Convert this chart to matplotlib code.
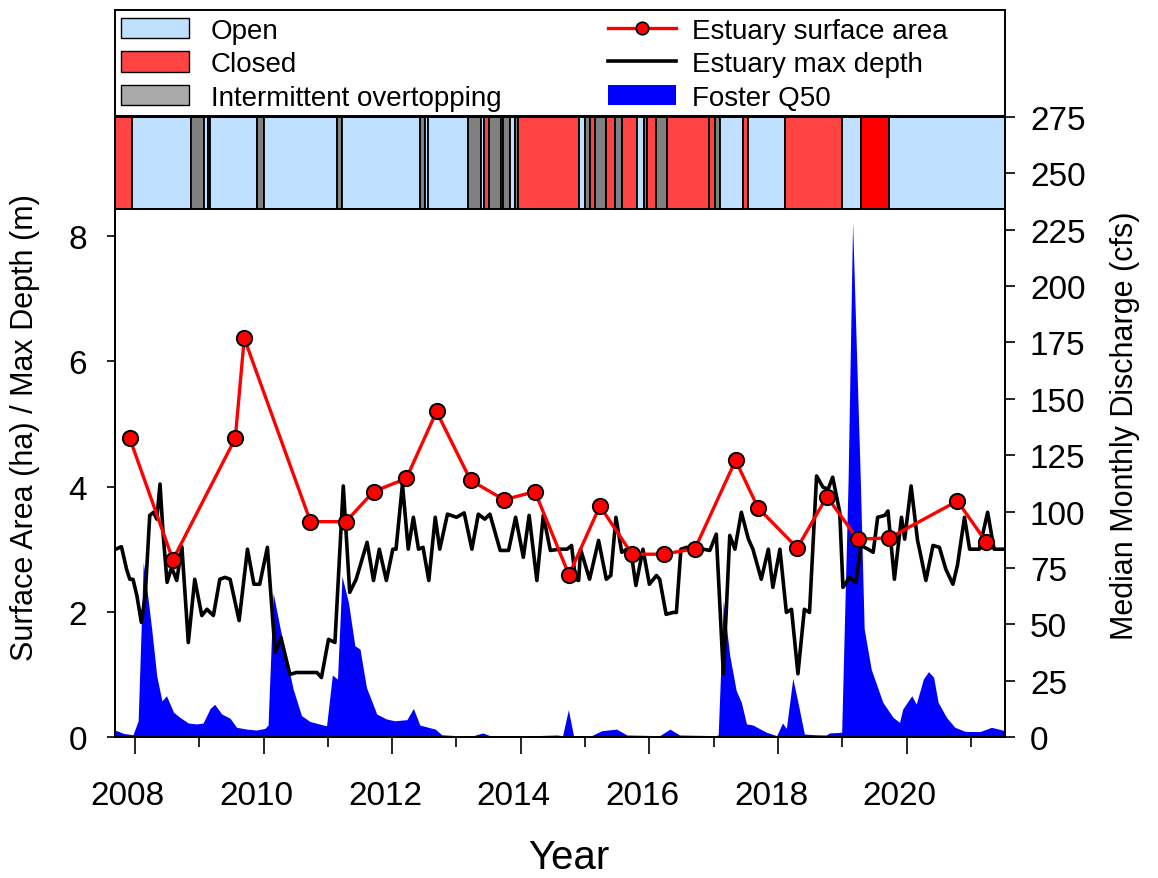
import numpy as np
import matplotlib.pyplot as plt
import matplotlib.transforms as mtrans
from matplotlib.patches import Patch, Rectangle
from matplotlib.lines import Line2D

plt.rcParams['font.family'] = ['Liberation Sans', 'DejaVu Sans']

#------------------------------------------------------------------#
# data
#------------------------------------------------------------------#
# estuary surface area (ha)
sa_year = [2007.92, 2008.59, 2009.56, 2009.70, 2010.73, 2011.28, 2011.71, 2012.22, 2012.69,
           2013.22, 2013.74, 2014.22, 2014.75, 2015.23, 2015.73, 2016.22, 2016.71, 2017.34,
           2017.69, 2018.30, 2018.76, 2019.24, 2019.73, 2020.79, 2021.24]
sa_val = [4.77, 2.83, 4.77, 6.37, 3.44, 3.44, 3.92, 4.13, 5.20,
          4.10, 3.79, 3.92, 2.59, 3.69, 2.92, 2.92, 3.01, 4.42,
          3.66, 3.02, 3.84, 3.16, 3.18, 3.77, 3.11]

# estuary max depth (m)
depth_year = [2007.70, 2007.79, 2007.87, 2007.92, 2007.97, 2008.03, 2008.10, 2008.16, 2008.23, 2008.29,
              2008.34, 2008.39, 2008.44, 2008.50, 2008.57, 2008.65, 2008.73, 2008.83, 2008.93, 2009.04,
              2009.12, 2009.22, 2009.32, 2009.40, 2009.48, 2009.62, 2009.75, 2009.85, 2009.94, 2010.06,
              2010.18, 2010.27, 2010.41, 2010.51, 2010.83, 2010.90, 2011.01, 2011.11, 2011.24, 2011.34,
              2011.44, 2011.61, 2011.71, 2011.80, 2011.91, 2012.01, 2012.06, 2012.16, 2012.25, 2012.33,
              2012.41, 2012.48, 2012.57, 2012.67, 2012.74, 2012.86, 2013.00, 2013.12, 2013.24, 2013.34,
              2013.44, 2013.52, 2013.68, 2013.81, 2013.92, 2014.04, 2014.13, 2014.25, 2014.35, 2014.46,
              2014.61, 2014.72, 2014.79, 2014.85, 2014.90, 2014.93, 2015.07, 2015.21, 2015.33, 2015.40,
              2015.48, 2015.57, 2015.65, 2015.72, 2015.79, 2015.90, 2016.00, 2016.11, 2016.16, 2016.26,
              2016.37, 2016.42, 2016.49, 2016.58, 2016.84, 2016.94, 2017.04, 2017.15, 2017.25, 2017.33,
              2017.43, 2017.54, 2017.61, 2017.74, 2017.85, 2017.92, 2018.03, 2018.13, 2018.21, 2018.31,
              2018.41, 2018.49, 2018.60, 2018.70, 2018.78, 2018.85, 2018.96, 2019.01, 2019.11, 2019.21,
              2019.29, 2019.40, 2019.48, 2019.55, 2019.66, 2019.71, 2019.81, 2019.92, 2019.97, 2020.07,
              2020.17, 2020.20, 2020.30, 2020.41, 2020.51, 2020.61, 2020.72, 2020.79, 2020.90, 2020.98,
              2021.13, 2021.26, 2021.36, 2021.44, 2021.52]
depth_val = [3.00, 3.04, 2.68, 2.52, 2.52, 2.26, 1.83, 2.26, 3.54, 3.59,
             3.48, 4.04, 3.22, 2.47, 2.71, 2.50, 3.04, 1.51, 2.52, 1.94,
             2.04, 1.94, 2.52, 2.55, 2.52, 1.86, 3.00, 2.44, 2.44, 3.03,
             1.35, 1.59, 1.00, 1.03, 1.03, 0.95, 1.56, 1.51, 4.01, 2.31,
             2.52, 3.11, 2.50, 3.00, 2.50, 3.00, 3.00, 4.04, 3.00, 3.51,
             3.00, 3.03, 2.50, 3.51, 3.00, 3.56, 3.51, 3.58, 3.00, 3.56,
             3.48, 3.56, 2.98, 2.98, 3.51, 2.87, 3.54, 2.50, 3.54, 2.98,
             3.00, 3.00, 3.06, 2.52, 2.50, 3.00, 2.52, 3.14, 2.52, 2.58,
             3.51, 2.95, 3.00, 2.92, 2.42, 3.00, 2.44, 2.58, 2.52, 1.96,
             1.99, 1.99, 3.00, 3.03, 3.00, 2.98, 3.24, 1.01, 3.22, 3.00,
             3.59, 3.16, 3.00, 2.52, 3.00, 2.39, 3.00, 1.99, 2.04, 1.01,
             2.04, 1.99, 4.17, 3.99, 3.96, 4.15, 3.59, 2.39, 2.55, 2.47,
             3.06, 3.00, 2.95, 3.51, 3.54, 3.61, 2.52, 3.51, 3.16, 4.01,
             3.14, 3.00, 2.50, 3.06, 3.03, 2.68, 2.44, 2.74, 3.51, 3.00,
             3.00, 3.59, 3.00, 3.00, 3.00]

# Foster median monthly discharge (cfs)
q_year = [2007.69, 2007.72, 2007.82, 2007.97, 2008.05, 2008.13, 2008.18, 2008.26, 2008.34, 2008.42,
          2008.49, 2008.60, 2008.70, 2008.83, 2008.96, 2009.06, 2009.17, 2009.24, 2009.35, 2009.48,
          2009.58, 2009.74, 2009.89, 2010.02, 2010.07, 2010.15, 2010.26, 2010.36, 2010.46, 2010.59,
          2010.72, 2010.93, 2010.98, 2011.07, 2011.15, 2011.22, 2011.32, 2011.42, 2011.50, 2011.60,
          2011.76, 2011.91, 2012.04, 2012.23, 2012.33, 2012.43, 2012.67, 2012.77, 2013.00, 2013.26,
          2013.41, 2013.52, 2013.99, 2014.56, 2014.65, 2014.74, 2014.82, 2015.10, 2015.26, 2015.49,
          2015.65, 2016.16, 2016.32, 2016.47, 2017.04, 2017.07, 2017.15, 2017.25, 2017.35, 2017.43,
          2017.51, 2017.61, 2017.82, 2017.98, 2018.07, 2018.13, 2018.23, 2018.31, 2018.41, 2018.60,
          2018.75, 2018.80, 2018.99, 2019.09, 2019.16, 2019.22, 2019.28, 2019.34, 2019.45, 2019.63,
          2019.79, 2019.89, 2019.94, 2020.08, 2020.15, 2020.26, 2020.34, 2020.42, 2020.49, 2020.62,
          2020.75, 2020.91, 2021.14, 2021.32, 2021.53]
q_val = [2.8, 2.8, 1.6, 1.0, 7.2, 77.5, 67, 48, 27, 16,
         18.3, 11, 8.7, 6.2, 5.8, 6.2, 12.7, 14.5, 10.2, 8.3,
         4.3, 3.5, 3.1, 3.8, 5.3, 63.9, 47.9, 34.6, 21.3, 9.5,
         6.9, 5.3, 5.0, 27.5, 25.7, 71.3, 59.7, 40.5, 39.0, 22.0,
         10.2, 8.0, 7.2, 7.7, 12.7, 5.3, 3.5, 1.0, 0.6, 0.6,
         1.8, 0.6, 0.4, 0.9, 0.6, 12.1, 0.6, 0.6, 2.8, 3.5,
         0.9, 0.6, 3.5, 0.9, 0.6, 1.0, 60.5, 36.1, 20.6, 15.4,
         5.8, 5.3, 2.1, 0.6, 6.2, 3.8, 26.0, 15.4, 1.3, 1.0,
         0.9, 1.8, 2.1, 114, 228, 171, 114, 48, 30, 15.4,
         8.7, 6.5, 12.4, 18.3, 14.6, 25.7, 29, 26.5, 15.4, 8.7,
         4.3, 2.5, 2.4, 4.3, 2.8]

# mouth state: O open, C closed, I intermittent overtopping, R closed (bright)
band_edges = [2007.69, 2007.95, 2008.87, 2009.07, 2009.14, 2009.17, 2009.90, 2010.01, 2011.14, 2011.22,
              2012.44, 2012.51, 2012.56, 2013.18, 2013.38, 2013.43, 2013.51, 2013.70, 2013.73, 2013.83,
              2013.91, 2013.96, 2014.91, 2015.00, 2015.08, 2015.15, 2015.33, 2015.47, 2015.57, 2015.80,
              2015.91, 2015.97, 2016.10, 2016.28, 2016.93, 2017.02, 2017.10, 2017.45, 2017.54, 2018.11,
              2018.99, 2019.29, 2019.73, 2021.53]
band_state = ['C', 'O', 'I', 'O', 'I', 'O', 'I', 'O', 'I', 'O',
              'I', 'O', 'O', 'I', 'O', 'C', 'I', 'O', 'I', 'O',
              'I', 'C', 'O', 'I', 'C', 'I', 'C', 'I', 'C', 'O',
              'I', 'C', 'I', 'C', 'C', 'I', 'O', 'C', 'O', 'C',
              'O', 'R', 'O']
state_color = {'O': '#C0E0FF', 'C': '#FF4242', 'I': '#808080', 'R': '#FF0000'}

#------------------------------------------------------------------#
W, H = 1158, 879
fig = plt.figure(figsize=(W / 100, H / 100), dpi=100)

def fx(px):
    return px / W

def fy(py):
    return 1 - py / H

ax = fig.add_axes([fx(115), fy(738), fx(1005) - fx(115), fy(118) - fy(738)])
ax2 = ax.twinx()
ax.set_zorder(ax2.get_zorder() + 1)
ax.patch.set_visible(False)

ax2.fill_between(q_year, q_val, 0, color='#0000FF', lw=0)
ax.plot(depth_year, depth_val, color='k', lw=2.6, solid_joinstyle='round')
ax.plot(sa_year, sa_val, '-o', color='#FF0000', lw=2.4, ms=11,
        mfc='#FF0000', mec='k', mew=1.4)

ax.set_xlim(2007.69, 2021.53)
ax.set_ylim(0, 9.904)
ax2.set_ylim(0, 275)

ax.set_xticks(range(2008, 2022, 2))
ax.set_xticks(range(2009, 2022, 2), minor=True)
ax.set_yticks([0, 2, 4, 6, 8])
ax2.set_yticks(range(0, 276, 25))

ax.tick_params(axis='x', which='major', length=12, width=1.2, labelsize=24, pad=19)
ax.tick_params(axis='x', which='minor', length=7, width=1.2)
ax.tick_params(axis='y', length=6, width=1.2, labelsize=24, pad=14)
ax2.tick_params(axis='y', length=7, width=1.2, labelsize=24, pad=11)

offset = mtrans.ScaledTranslation(-7 / 100, 0, fig.dpi_scale_trans)
for lab in ax.get_xticklabels():
    lab.set_transform(lab.get_transform() + offset)

for a in (ax, ax2):
    a.spines['top'].set_visible(False)
    for s in ['left', 'right', 'bottom']:
        a.spines[s].set_linewidth(1.4)

ax.set_xlabel('Year', fontsize=29)
ax.xaxis.set_label_coords(0.51, -0.163)
ax.set_ylabel('Surface Area (ha) / Max Depth (m)', fontsize=22)
ax.yaxis.set_label_coords(-0.084, 0.5)
ax2.set_ylabel('Median Monthly Discharge (cfs)', fontsize=22)
ax2.yaxis.set_label_coords(1.118, 0.504)

# mouth state band
axb = fig.add_axes([fx(115), fy(210), fx(1005) - fx(115), fy(118) - fy(210)])
axb.set_zorder(ax.get_zorder() + 1)
left = band_edges[:-1]
width = np.diff(band_edges)
axb.bar(left, 1, width=width, align='edge',
        color=[state_color[s] for s in band_state], edgecolor='k', linewidth=1.3)
axb.set_xlim(2007.69, 2021.53)
axb.set_ylim(0, 1)
axb.set_xticks([]); axb.set_yticks([])
for s in axb.spines.values():
    s.set_linewidth(1.4)

# legend box
fig.add_artist(Rectangle((fx(115), fy(117)), fx(1005) - fx(115), fy(11) - fy(117),
                         transform=fig.transFigure, fill=False, ec='k', lw=1.4))
h1 = [Patch(fc='#C0E0FF', ec='k', lw=1), Patch(fc='#FF4242', ec='k', lw=1),
      Patch(fc='#AAAAAA', ec='k', lw=1)]
fig.legend(h1, ['Open', 'Closed', 'Intermittent overtopping'], loc='upper left',
           bbox_to_anchor=(fx(115), fy(13)), frameon=False, fontsize=20,
           handlelength=2.45, handleheight=0.75, handletextpad=0.8,
           labelspacing=0.27, borderpad=0.2, borderaxespad=0)
h2 = [Line2D([], [], color='#FF0000', lw=2.4, marker='o', ms=9, mfc='#FF0000', mec='k', mew=1.2),
      Line2D([], [], color='k', lw=2.6),
      Patch(fc='#0000FF', ec='none')]
fig.legend(h2, ['Estuary surface area', 'Estuary max depth', 'Foster Q50'], loc='upper left',
           bbox_to_anchor=(fx(602), fy(13)), frameon=False, fontsize=20,
           handlelength=2.45, handleheight=0.75, handletextpad=0.6,
           labelspacing=0.27, borderpad=0.2, borderaxespad=0)

plt.savefig('out.png', dpi=100)
